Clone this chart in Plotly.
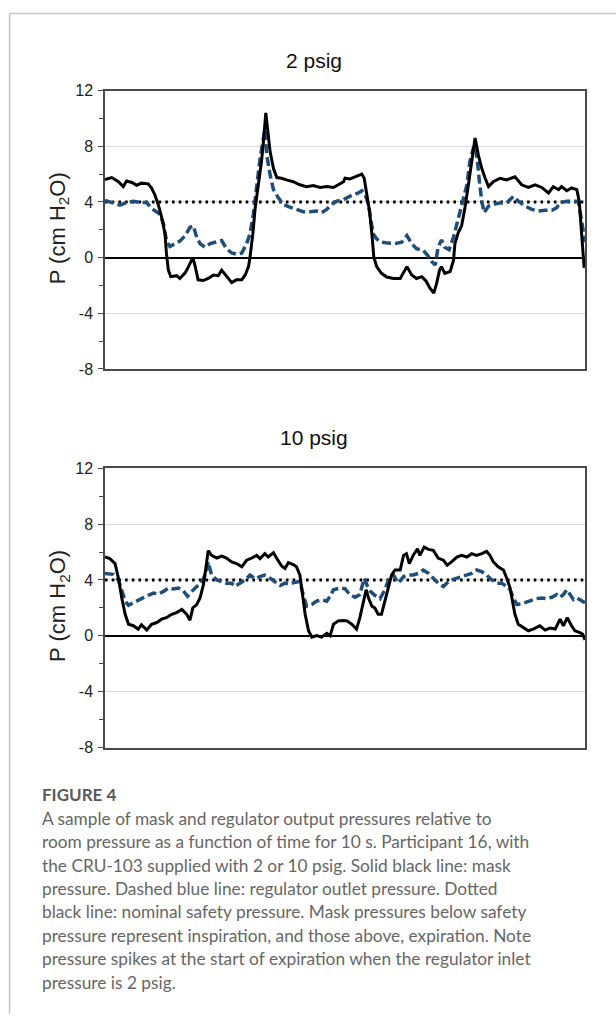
import plotly.graph_objects as go

W, H = 616, 1023

# ---- 2 psig supply: mask pressure (solid black) ----
t_mask_2 = [0, 0.14, 0.28, 0.38, 0.45, 0.56, 0.66, 0.76, 0.9, 0.97, 1.04, 1.11, 1.18, 1.25, 1.28,
            1.32, 1.37, 1.49, 1.56, 1.67, 1.74, 1.83, 1.88, 1.94, 2.05, 2.15, 2.26, 2.36, 2.43,
            2.53, 2.64, 2.74, 2.85, 2.92, 2.99, 3.02, 3.08, 3.13, 3.2, 3.26, 3.3, 3.35, 3.44,
            3.51, 3.58, 3.68, 3.78, 3.92, 4.06, 4.2, 4.34, 4.48, 4.62, 4.76, 4.86, 4.97, 5.0,
            5.1, 5.21, 5.35, 5.4, 5.45, 5.51, 5.56, 5.6, 5.66, 5.76, 5.87, 6.01, 6.15, 6.29,
            6.39, 6.49, 6.6, 6.69, 6.77, 6.85, 6.91, 6.97, 7.01, 7.08, 7.19, 7.26, 7.29, 7.36,
            7.43, 7.5, 7.57, 7.64, 7.71, 7.78, 7.85, 7.92, 7.99, 8.09, 8.23, 8.37, 8.54, 8.68,
            8.82, 8.96, 9.1, 9.24, 9.34, 9.45, 9.51, 9.62, 9.72, 9.83, 9.88, 9.91, 9.95, 9.98,
            10.0]
p_mask_2 = [5.6, 5.75, 5.45, 5.1, 5.5, 5.4, 5.2, 5.35, 5.3, 5.0, 4.5, 3.8, 2.9, 1.7, 0.3,
            -0.9, -1.37, -1.3, -1.5, -1.1, -0.65, 0.0, -0.65, -1.6, -1.65, -1.5, -1.25, -1.3, -0.9,
            -1.37, -1.8, -1.6, -1.6, -1.25, -0.65, 0.0, 1.7, 3.6, 5.2, 6.9, 8.3, 10.4, 7.6,
            6.4, 5.75, 5.7, 5.58, 5.45, 5.23, 5.1, 5.18, 5.04, 5.1, 5.04, 5.23, 5.45, 5.7,
            5.65, 5.8, 6.0, 5.7, 4.75, 3.35, 1.7, 0.05, -0.65, -1.13, -1.4, -1.5, -1.5, -0.65,
            -1.25, -1.5, -1.37, -1.7, -2.2, -2.55, -1.84, -0.9, -0.65, -1.13, -1.0, -0.2, 1.0, 1.8,
            2.3, 3.6, 5.2, 7.1, 8.6, 7.35, 6.4, 5.7, 5.1, 5.45, 5.7, 5.58, 5.8, 5.23,
            5.04, 5.23, 5.04, 4.64, 5.1, 4.88, 5.1, 4.8, 5.0, 4.88, 4.05, 2.64, 0.75, -0.65,
            -0.7]

# ---- 2 psig supply: regulator outlet pressure (dashed blue) ----
t_reg_2 = [0, 0.17, 0.31, 0.45, 0.59, 0.73, 0.87, 0.97, 1.08, 1.15, 1.22, 1.28, 1.35, 1.46,
           1.56, 1.67, 1.77, 1.84, 1.91, 1.98, 2.08, 2.19, 2.29, 2.43, 2.53, 2.64, 2.74, 2.85,
           2.95, 3.02, 3.09, 3.16, 3.23, 3.33, 3.37, 3.44, 3.51, 3.61, 3.72, 3.85, 3.99, 4.13,
           4.27, 4.41, 4.51, 4.62, 4.72, 4.83, 4.97, 5.04, 5.17, 5.28, 5.35, 5.42, 5.49, 5.54,
           5.59, 5.66, 5.76, 5.9, 6.04, 6.18, 6.29, 6.39, 6.49, 6.63, 6.72, 6.81, 6.88, 6.94,
           7.01, 7.08, 7.17, 7.26, 7.33, 7.4, 7.47, 7.54, 7.6, 7.67, 7.71, 7.76, 7.8, 7.85,
           7.9, 7.99, 8.09, 8.23, 8.37, 8.51, 8.61, 8.75, 8.89, 9.03, 9.17, 9.31, 9.41, 9.48,
           9.62, 9.76, 9.86, 9.93, 9.98, 10.0]
p_reg_2 = [4.1, 3.95, 3.77, 3.95, 4.05, 3.95, 3.95, 3.53, 3.3, 3.1, 2.4, 1.22, 0.8, 1.0,
           1.18, 1.58, 2.17, 2.28, 1.46, 1.0, 0.75, 1.0, 1.1, 1.22, 0.64, 0.33, 0.24, 0.33,
           1.0, 1.7, 3.1, 5.23, 7.1, 9.2, 7.35, 5.94, 4.88, 4.3, 3.82, 3.63, 3.46, 3.3,
           3.3, 3.35, 3.23, 3.46, 3.82, 4.05, 4.17, 4.3, 4.52, 4.64, 4.8, 4.52, 3.82, 2.64,
           1.7, 1.34, 1.1, 1.04, 1.0, 1.1, 1.58, 1.0, 0.64, 0.52, 0.16, -0.3, -0.54, 0.75,
           1.27, 0.75, 0.57, 1.46, 2.4, 3.35, 4.05, 5.23, 6.88, 7.82, 8.06, 6.88, 5.47, 4.05,
           3.23, 3.7, 3.82, 3.93, 3.93, 4.4, 4.05, 3.7, 3.46, 3.35, 3.4, 3.4, 3.58, 3.93,
           4.05, 4.05, 4.05, 2.64, 1.22, 1.1]

# ---- 10 psig supply: mask pressure (solid black) ----
t_mask_10 = [0, 0.1, 0.21, 0.28, 0.35, 0.42, 0.49, 0.59, 0.69, 0.76, 0.87, 0.97, 1.08, 1.18,
             1.28, 1.39, 1.49, 1.6, 1.7, 1.77, 1.83, 1.91, 1.98, 2.05, 2.1, 2.15, 2.22, 2.33,
             2.43, 2.53, 2.64, 2.74, 2.85, 2.95, 3.06, 3.16, 3.23, 3.33, 3.4, 3.51, 3.58, 3.68,
             3.75, 3.82, 3.92, 3.99, 4.06, 4.12, 4.17, 4.24, 4.31, 4.41, 4.51, 4.62, 4.69, 4.76,
             4.86, 4.97, 5.04, 5.14, 5.24, 5.31, 5.38, 5.44, 5.49, 5.56, 5.62, 5.69, 5.76, 5.83,
             5.9, 5.97, 6.04, 6.15, 6.22, 6.28, 6.34, 6.42, 6.51, 6.56, 6.65, 6.74, 6.84, 6.94,
             7.05, 7.13, 7.22, 7.33, 7.43, 7.54, 7.64, 7.74, 7.85, 7.95, 8.02, 8.09, 8.19, 8.3,
             8.37, 8.44, 8.49, 8.54, 8.61, 8.72, 8.82, 8.92, 9.06, 9.17, 9.27, 9.38, 9.48, 9.55,
             9.63, 9.72, 9.79, 9.88, 9.95, 10.0]
p_mask_10 = [5.64, 5.53, 5.17, 4.12, 2.7, 1.54, 0.83, 0.72, 0.48, 0.79, 0.41, 0.83, 0.95, 1.19,
             1.3, 1.54, 1.66, 1.89, 1.54, 1.12, 2.0, 2.24, 2.71, 3.65, 4.82, 6.1, 5.76, 5.57,
             5.71, 5.57, 5.29, 5.17, 4.94, 5.41, 5.57, 5.76, 5.53, 5.88, 5.64, 5.95, 5.53, 5.0,
             4.82, 5.24, 5.1, 4.94, 4.35, 2.94, 1.54, 0.36, -0.1, 0.01, -0.1, 0.18, 0.0, 0.83,
             1.07, 1.1, 1.07, 0.83, 0.48, 1.3, 2.48, 3.3, 2.71, 2.12, 2.0, 1.54, 1.54, 2.48,
             3.42, 4.35, 4.71, 4.71, 5.76, 5.88, 5.17, 5.76, 6.23, 5.76, 6.35, 6.19, 6.12, 5.57,
             5.41, 5.06, 5.29, 5.64, 5.76, 5.64, 5.88, 5.76, 5.88, 6.04, 5.76, 5.29, 4.94, 4.71,
             4.12, 3.42, 2.48, 1.54, 0.83, 0.6, 0.36, 0.48, 0.72, 0.41, 0.55, 0.48, 1.19, 0.72,
             1.3, 0.72, 0.36, 0.25, 0.13, -0.29]

# ---- 10 psig supply: regulator outlet pressure (dashed blue) ----
t_reg_10 = [0, 0.17, 0.28, 0.35, 0.42, 0.49, 0.59, 0.69, 0.8, 0.9, 1.01, 1.11, 1.22, 1.32,
            1.42, 1.53, 1.63, 1.72, 1.81, 1.91, 2.01, 2.1, 2.15, 2.22, 2.33, 2.43, 2.53, 2.64,
            2.71, 2.81, 2.92, 3.02, 3.13, 3.23, 3.33, 3.44, 3.54, 3.65, 3.75, 3.85, 3.96, 4.06,
            4.13, 4.2, 4.31, 4.41, 4.51, 4.62, 4.69, 4.76, 4.9, 5.0, 5.1, 5.21, 5.31, 5.4,
            5.47, 5.53, 5.62, 5.73, 5.83, 5.92, 6.01, 6.11, 6.22, 6.32, 6.42, 6.53, 6.63, 6.74,
            6.84, 6.94, 7.05, 7.12, 7.22, 7.33, 7.43, 7.54, 7.64, 7.74, 7.85, 7.95, 8.06, 8.16,
            8.26, 8.37, 8.44, 8.51, 8.58, 8.68, 8.78, 8.89, 8.99, 9.1, 9.2, 9.31, 9.41, 9.48,
            9.55, 9.62, 9.69, 9.76, 9.83, 9.9, 10.0]
p_reg_10 = [4.47, 4.4, 4.0, 3.18, 2.48, 2.19, 2.36, 2.59, 2.71, 2.9, 3.06, 2.99, 3.18, 3.42,
            3.35, 3.42, 3.23, 2.83, 3.18, 3.53, 3.77, 4.47, 5.29, 4.35, 4.0, 3.88, 3.77, 3.77,
            3.53, 3.77, 4.0, 4.35, 4.07, 4.24, 4.35, 4.12, 3.88, 3.6, 3.77, 3.7, 3.84, 3.88,
            2.94, 2.12, 2.24, 2.48, 2.59, 2.48, 2.83, 3.3, 3.42, 3.37, 2.95, 2.76, 2.95, 4.12,
            3.53, 3.18, 2.9, 2.66, 3.3, 4.12, 4.35, 3.77, 4.24, 4.35, 4.35, 4.47, 4.71, 4.47,
            4.12, 3.77, 3.53, 3.77, 4.0, 4.12, 4.24, 4.35, 4.47, 4.71, 4.59, 4.35, 4.0, 3.77,
            3.77, 3.53, 3.3, 2.71, 2.24, 2.29, 2.43, 2.52, 2.66, 2.71, 2.66, 2.76, 2.95, 2.76,
            2.95, 3.3, 2.95, 2.59, 2.71, 2.59, 2.36]

# nominal safety pressure (dotted black)
t_safety = [0, 10]
p_safety = [4, 4]

panel_titles = ["2 psig", "10 psig"]
y_ticks = [-8, -4, 0, 4, 8, 12]
y_tick_text = ["-8", "-4", "0", "4", "8", "12"]
y_title = "P (cm H<sub>2</sub>O)"

caption_head = "FIGURE 4"
caption_lines = [
    "A sample of mask and regulator output pressures relative to",
    "room pressure as a function of time for 10 s. Participant 16, with",
    "the CRU-103 supplied with 2 or 10 psig. Solid black line: mask",
    "pressure. Dashed blue line: regulator outlet pressure. Dotted",
    "black line: nominal safety pressure. Mask pressures below safety",
    "pressure represent inspiration, and those above, expiration. Note",
    "pressure spikes at the start of expiration when the regulator inlet",
    "pressure is 2 psig.",
]

BLUE = "#1F4E79"
FRAME = "#4a4a4a"
ARIAL = "Liberation Sans, Arial, sans-serif"


def py(px):
    """Convert a pixel row (from the top) into paper y."""
    return 1 - px / H


def px_x(px):
    return px / W


# plot boxes (pixels): left, right, top, bottom
panels = [(105, 585, 84, 367), (105, 585, 468, 752)]
title_rows = [53, 437]
ytitle_rows = [224, 608]

fig = go.Figure()

series = [
    (t_mask_2, p_mask_2, t_reg_2, p_reg_2),
    (t_mask_10, p_mask_10, t_reg_10, p_reg_10),
]

for i, (tm, pm, tr, pr) in enumerate(series):
    xa = "x" if i == 0 else "x2"
    ya = "y" if i == 0 else "y2"
    fig.add_trace(go.Scatter(x=t_safety, y=p_safety, mode="lines", xaxis=xa, yaxis=ya,
                             line=dict(color="black", width=3, dash="2.6px,4.1px"),
                             showlegend=False, hoverinfo="skip"))
    fig.add_trace(go.Scatter(x=tr, y=pr, mode="lines", xaxis=xa, yaxis=ya,
                             line=dict(color=BLUE, width=3.5, dash="9px,4px"),
                             showlegend=False))
    fig.add_trace(go.Scatter(x=tm, y=pm, mode="lines", xaxis=xa, yaxis=ya,
                             line=dict(color="black", width=3),
                             showlegend=False))

axis_common_y = dict(
    range=[-8, 12], tickvals=y_ticks, ticktext=y_tick_text, ticks="outside", ticklen=5,
    tickwidth=1, tickcolor=FRAME, ticklabelstandoff=2,
    showgrid=True, gridcolor="#d9d9d9", gridwidth=1,
    zeroline=True, zerolinecolor="black", zerolinewidth=1.5,
    showline=True, linecolor=FRAME, linewidth=1.5, mirror=True,
    tickfont=dict(family=ARIAL, size=16, color="#222222"),
    minor=dict(dtick=2, tick0=0, ticks="outside", ticklen=4, tickcolor=FRAME, showgrid=False),
    fixedrange=True,
)
axis_common_x = dict(
    range=[0, 10], showticklabels=False, ticks="", showgrid=False, zeroline=False,
    showline=True, linecolor=FRAME, linewidth=1.5, mirror=True, fixedrange=True,
)

l, r, t, b = panels[0]
fig.update_layout(
    xaxis=dict(domain=[px_x(l), px_x(r)], anchor="y", **axis_common_x),
    yaxis=dict(domain=[py(b), py(t)], anchor="x", **axis_common_y),
)
l, r, t, b = panels[1]
fig.update_layout(
    xaxis2=dict(domain=[px_x(l), px_x(r)], anchor="y2", **axis_common_x),
    yaxis2=dict(domain=[py(b), py(t)], anchor="x2", **axis_common_y),
)

annotations = []
for i in range(2):
    annotations.append(dict(
        text=panel_titles[i], x=px_x(314), y=py(title_rows[i]), xref="paper", yref="paper",
        xanchor="center", yanchor="middle", showarrow=False,
        font=dict(family=ARIAL, size=21, color="#111111")))
    annotations.append(dict(
        text=y_title, x=px_x(59), y=py(ytitle_rows[i]), xref="paper", yref="paper",
        xanchor="center", yanchor="middle", showarrow=False, textangle=-90,
        font=dict(family=ARIAL, size=22, color="#222222")))

annotations.append(dict(
    text="<b>" + caption_head + "</b>", x=px_x(40), y=py(800), xref="paper", yref="paper",
    xanchor="left", yanchor="middle", showarrow=False,
    font=dict(family="Lato", size=17, color="#5a5a5a")))
for k, line in enumerate(caption_lines):
    annotations.append(dict(
        text=line, x=px_x(40), y=py(824 + 23.8 * k), xref="paper", yref="paper",
        xanchor="left", yanchor="middle", showarrow=False,
        font=dict(family="Lato", size=17.3, color="#666666")))

# card border along the top and left edges
shapes = [
    dict(type="line", xref="paper", yref="paper", x0=px_x(9.5), x1=1.0, y0=py(5.5), y1=py(5.5),
         line=dict(color="#c8c8c8", width=1.5)),
    dict(type="line", xref="paper", yref="paper", x0=px_x(9.5), x1=px_x(9.5), y0=py(5.5), y1=0,
         line=dict(color="#c8c8c8", width=1.5)),
]

fig.update_layout(
    width=W, height=H, margin=dict(l=0, r=0, t=0, b=0),
    paper_bgcolor="white", plot_bgcolor="white",
    annotations=annotations, shapes=shapes, showlegend=False,
)

fig.write_html("out.html", config={"displayModeBar": False})
